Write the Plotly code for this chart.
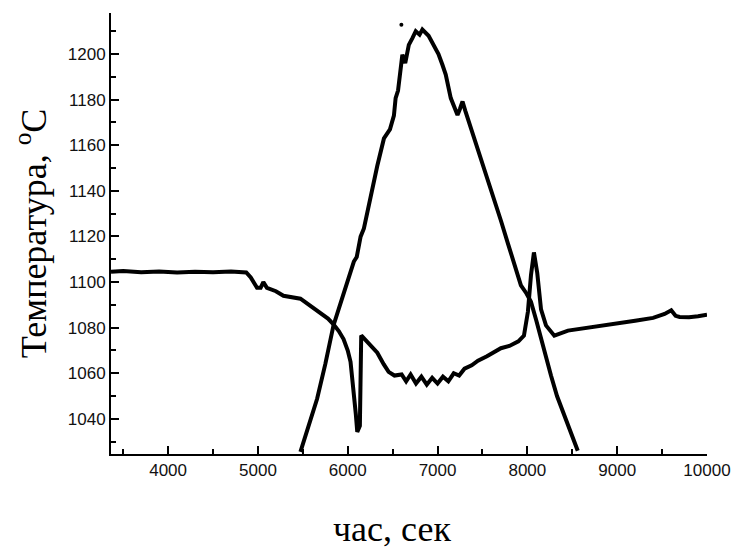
import plotly.graph_objects as go

# Series A: flat, drop, dip, spike, gradual rise
a_x = [3364, 3500, 3700, 3900, 4100, 4300, 4500, 4700, 4870, 4920, 4990, 5030, 5060, 5100,
       5200, 5284, 5473, 5620, 5700, 5780, 5841, 5900, 5953, 6000, 6031, 6065, 6090, 6106,
       6135, 6150, 6220, 6329, 6400, 6455, 6520, 6600, 6650, 6700, 6760, 6820, 6880, 6940,
       7000, 7060, 7120, 7180, 7240, 7300, 7380, 7450, 7550, 7650, 7705, 7800, 7900, 7962,
       8006, 8040, 8073, 8110, 8152, 8207, 8300, 8452, 8600, 8821, 9000, 9200, 9400, 9528,
       9602, 9650, 9695, 9800, 9900, 10000]
a_y = [1104.5, 1104.8, 1104.3, 1104.6, 1104.2, 1104.5, 1104.3, 1104.6, 1104.2, 1102, 1097.5, 1097.5, 1100, 1097.5,
       1096, 1094, 1092.7, 1088.5, 1086.5, 1084, 1081.5, 1078.5, 1075, 1070, 1065, 1053, 1042, 1034.3,
       1037, 1076.6, 1073.5, 1069, 1064, 1060.6, 1059, 1059.5, 1056.5, 1059.5, 1055.5, 1058.5, 1055, 1058,
       1055.5, 1058.5, 1056.5, 1060, 1059, 1062, 1063.5, 1065.5, 1067.5, 1069.5, 1071, 1072, 1074, 1076.5,
       1087, 1103, 1113, 1104, 1088, 1081, 1076.5, 1078.7, 1079.5, 1081, 1082, 1083, 1084.3, 1086,
       1087.6, 1085.2, 1084.7, 1084.6, 1085, 1085.7]

# Series B: bell-shaped peak
b_x = [5473, 5560, 5659, 5750, 5841, 5930, 6012, 6068, 6100, 6143, 6180, 6254, 6329, 6403,
       6470, 6514, 6533, 6560, 6589, 6608, 6640, 6680, 6720, 6757, 6800, 6831, 6900, 6961,
       7010, 7054, 7091, 7147, 7190, 7222, 7250, 7278, 7310, 7352, 7445, 7560, 7672, 7705,
       7783, 7860, 7928, 7990, 8040, 8100, 8152, 8210, 8263, 8330, 8408, 8480, 8561]
b_y = [1025.5, 1036, 1048.8, 1064, 1081, 1092, 1101.5, 1109, 1111, 1119.9, 1123.5, 1138, 1151, 1163,
       1167, 1173, 1180.7, 1184, 1192.4, 1199.7, 1196, 1204, 1207, 1210, 1208.5, 1210.7, 1208, 1204,
       1200, 1195.3, 1191, 1180.7, 1177, 1173.3, 1176, 1179.2, 1175, 1170, 1159, 1145.5, 1131.5, 1127,
       1117, 1107, 1098.6, 1095, 1091.4, 1083, 1075, 1067, 1059, 1050, 1041.5, 1034, 1026]

outlier_x = [6597]
outlier_y = [1212.9]

x_ticks = [4000, 5000, 6000, 7000, 8000, 9000, 10000]
x_labels = ["4000", "5000", "6000", "7000", "8000", "9000", "10000"]
y_ticks = [1040, 1060, 1080, 1100, 1120, 1140, 1160, 1180, 1200]

fig = go.Figure()
fig.add_trace(go.Scatter(x=a_x, y=a_y, mode="lines", line=dict(color="black", width=4),
                         showlegend=False))
fig.add_trace(go.Scatter(x=b_x, y=b_y, mode="lines", line=dict(color="black", width=4),
                         showlegend=False))
fig.add_trace(go.Scatter(x=outlier_x, y=outlier_y, mode="markers",
                         marker=dict(color="black", size=4), showlegend=False))

tickfont = dict(family="Liberation Sans, Arial", size=17, color="#111")
serif = "Liberation Serif, Times New Roman"
fig.update_layout(
    width=737, height=551,
    margin=dict(l=111, r=30, t=13, b=97, autoexpand=False),
    paper_bgcolor="white", plot_bgcolor="white",
    xaxis=dict(range=[3364, 10000], tickvals=x_ticks, ticktext=x_labels, ticks="inside",
               ticklen=8, tickwidth=1.5, tickcolor="black", automargin=False,
               minor=dict(dtick=500, tick0=0, ticks="inside", ticklen=5,
                          tickcolor="black", tickwidth=1.5),
               showline=True, linecolor="black", linewidth=2, showgrid=False, zeroline=False,
               tickfont=tickfont),
    yaxis=dict(range=[1024.6, 1218], tickvals=y_ticks, ticks="inside", ticklen=8, tickwidth=1.5,
               tickcolor="black", automargin=False,
               minor=dict(dtick=10, tick0=0, ticks="inside", ticklen=5,
                          tickcolor="black", tickwidth=1.5),
               showline=True, linecolor="black", linewidth=2, showgrid=False, zeroline=False,
               tickfont=tickfont,
               title=dict(text="Температура, <sup>o</sup>C",
                          font=dict(family=serif, size=36, color="black"), standoff=10)),
    annotations=[dict(text="час, сек", xref="paper", yref="paper", x=0.4715, y=-0.17,
                      xanchor="center", yanchor="middle", showarrow=False,
                      font=dict(family=serif, size=36, color="black"))],
)

fig.write_html("out.html")
